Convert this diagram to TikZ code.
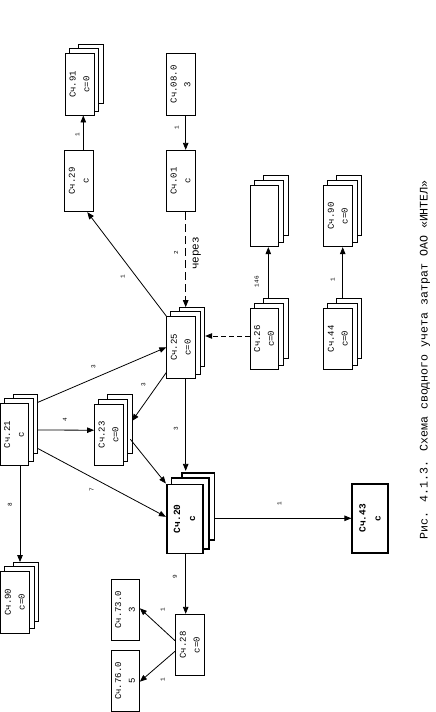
\documentclass[tikz,border=0pt]{standalone}
\usepackage{fontspec}
\setmainfont{Liberation Serif}
\newfontfamily\mono{Liberation Mono}
\usepackage{graphicx}
\usetikzlibrary{calc, arrows.meta, backgrounds}
\tikzset{
  sch/.style = {draw, fill=white, inner sep=0pt, line width=0.8pt,
    minimum width=28.5pt, minimum height=61.5pt,
    font=\mono\fontsize{9}{13.7}\selectfont},% schet
  schb/.style = {sch, line width=1.6pt, minimum width=36pt,
    minimum height=69pt, font=\mono\bfseries\fontsize{9.5}{15}\selectfont},% schet, zhirnyj
  pg/.style = {draw, fill=white, line width=0.8pt},% list pod schetom
  lbl/.style = {rotate=90, inner sep=0pt, font=\mono\fontsize{6}{6}\selectfont},
  con/.style = {->, line width=0.8pt},
  >={Triangle[length=7pt,width=5.5pt]}
}
\newcommand{\rot}[1]{\rotatebox{90}{\begin{tabular}{@{}c@{}}#1\end{tabular}}}
% #1 schet, #2 masshtab, #3 stil'
\newcommand{\pages}[3]{%
  \begin{pgfonlayer}{background}
  \draw[pg,#3] ([shift={(13.5*#2,-9*#2)}]#1.north west) rectangle ([shift={(9*#2,-12*#2)}]#1.south east);
  \draw[pg,#3] ([shift={(4.5*#2,-4.5*#2)}]#1.north west) rectangle ([shift={(4.5*#2,-4.5*#2)}]#1.south east);
  \end{pgfonlayer}}

\begin{document}
\begin{tikzpicture}[x=1pt, y=-1pt]
\useasboundingbox (0,0) rectangle (436,712);

\node[sch] (s91) at (79.7,84.3) {\rot{Сч.91\\с=0}}; \pages{s91}{1}{}
\node[sch] (s29) at (79,181) {\rot{Сч.29\\с}};
\node[sch] (s080) at (180.7,84.3) {\rot{Сч.08.0\\3}};
\node[sch] (s01) at (180.7,181) {\rot{Сч.01\\с}};
\node[sch] (sx) at (264.3,216) {}; \pages{sx}{1}{}
\node[sch] (s90a) at (338,216) {\rot{Сч.90\\с=0}}; \pages{s90a}{1}{}
\node[sch] (s25) at (181,347.3) {\rot{Сч.25\\с=0}}; \pages{s25}{1}{}
\node[sch] (s26) at (264.3,338.8) {\rot{Сч.26\\с=0}}; \pages{s26}{1}{}
\node[sch] (s44) at (338,338.8) {\rot{Сч.44\\с=0}}; \pages{s44}{1}{}
\node[sch] (s21) at (14.2,434.5) {\rot{Сч.21\\с}}; \pages{s21}{1}{}
\node[sch] (s23) at (108.7,434.7) {\rot{Сч.23\\с=0}}; \pages{s23}{1}{}
\node[schb] (s20) at (184.7,518.8) {\rot{Сч.20\\с}}; \pages{s20}{1.2}{line width=1.6pt}
\node[schb] (s43) at (370.2,518.3) {\rot{Сч.43\\с}};
\node[sch] (s90b) at (15,602.2) {\rot{Сч.90\\с=0}}; \pages{s90b}{1}{}
\node[sch] (s28) at (190,645) {\rot{Сч.28\\с=0}};
\node[sch] (s730) at (125.2,609.7) {\rot{Сч.73.0\\3}};
\node[sch] (s760) at (125.2,681) {\rot{Сч.76.0\\5}};

\draw[con] ([shift={(4.3,0)}]s29.north) -- ([shift={(4.3,0)}]s29.north |- s91.south) node[lbl] at (77.3,135) {1};
\draw[con] ([shift={(5,0)}]s080.south) -- ([shift={(5,0)}]s080.south |- s01.north) node[lbl] at (176.7,127.7) {1};
\draw[con, dash pattern=on 8pt off 4pt] ([shift={(5,0)}]s01.south) -- ([shift={(4.7,-9)}]s25.north)
  node[lbl] at (176,252.7) {2}
  node[lbl, font=\mono\fontsize{11}{11}\selectfont] at (196.7,253.3) {через};
\draw[con] (s25.north west) -- ([shift={(8.3,0)}]s29.south) node[lbl] at (122.7,276.7) {1};
\draw[con] ([shift={(9,-1)}]s21.north east) -- (s25.west) node[lbl] at (93.3,366.7) {3};
\draw[con] ([shift={(9,-4.5)}]s21.east) -- ([shift={(0,-4.5)}]s23.west) node[lbl] at (65,420) {4};
\draw[con] ([shift={(9,14)}]s21.east) -- ([shift={(0,-2)}]s20.west) node[lbl] at (91.7,490) {7};
\draw[con] ([shift={(5.8,0)}]s21.south) -- ([shift={(5,-9)}]s90b.north) node[lbl] at (10,505) {8};
\draw[con] ([shift={(0,-6)}]s25.south west) -- ([shift={(8.7,-13.7)}]s23.east) node[lbl] at (143.3,385) {3};
\draw[con] ([shift={(4.7,0)}]s25.south) -- ([shift={(1,-12.6)}]s20.north) node[lbl] at (176,428.3) {3};
\draw[con] ([shift={(7,4.6)}]s23.east) -- (s20.north west);
\draw[con, dash pattern=on 5pt off 3pt] ([shift={(0,-2.8)}]s26.west) -- ([shift={(9.5,-11.3)}]s25.east);
\draw[con] ([shift={(4,-8.5)}]s26.north) -- ([shift={(4,0)}]sx.south) node[lbl] at (256.7,281.7) {146};
\draw[con] ([shift={(4.7,-8.5)}]s44.north) -- ([shift={(4.7,0)}]s90a.south) node[lbl] at (332.7,279.3) {1};
\draw[con] ([shift={(10.6,-0.5)}]s20.east) -- (s43.west) node[lbl] at (279.3,503.3) {1};
\draw[con] ([shift={(1,0)}]s20.south) -- ([shift={(-4.3,0)}]s28.north) node[lbl] at (175,576.7) {9};
\draw[con] ([shift={(0,-4)}]s28.west) -- ([shift={(0,-1.4)}]s730.east) node[lbl] at (162.7,610) {1};
\draw[con] ([shift={(0,6)}]s28.west) -- ([shift={(0,0.7)}]s760.east) node[lbl] at (162.7,679.3) {1};

\node[rotate=90, font=\mono\fontsize{11.6}{12}\selectfont] (cap) at (425,360)
  {Рис. 4.1.3. Схема сводного учета затрат ОАО «ИНТЕЛ»};
\end{tikzpicture}
\end{document}
